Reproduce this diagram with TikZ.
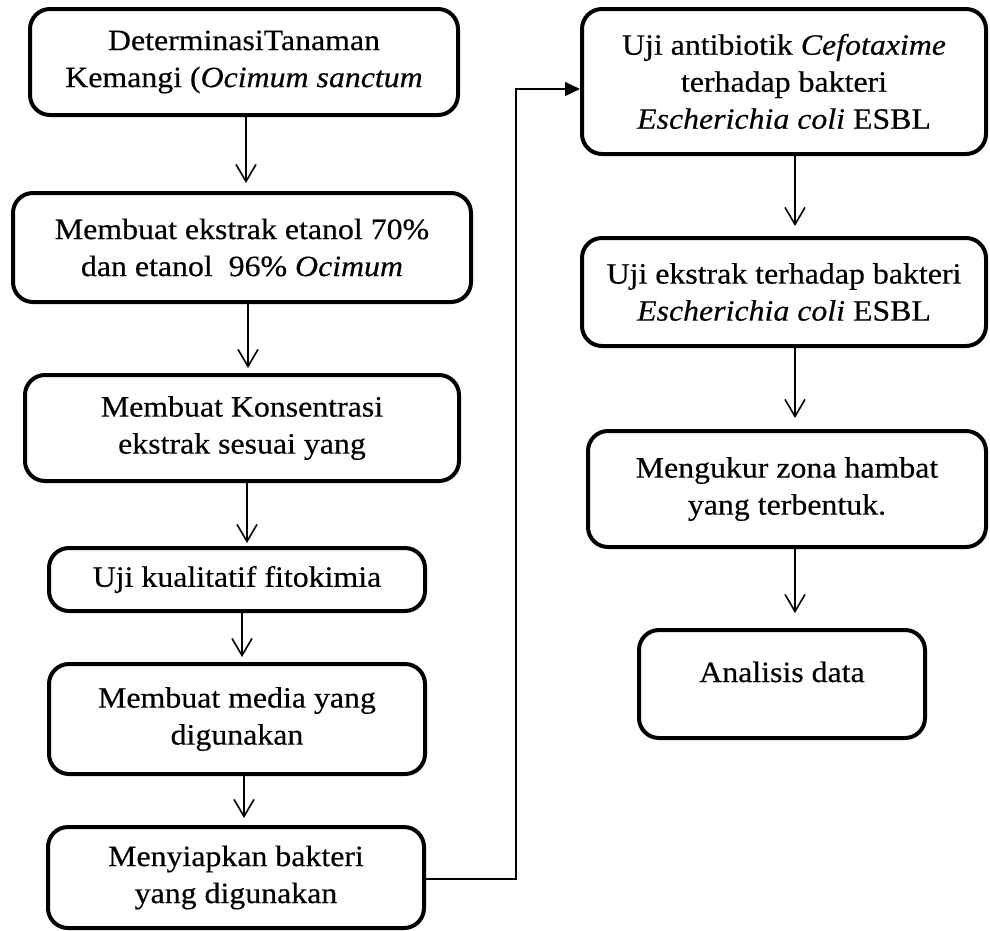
\documentclass[tikz,border=0pt]{standalone}
\usepackage{fontspec}
\setmainfont{Liberation Serif}[FakeStretch=1.08,FakeBold=0.4]
\usetikzlibrary{arrows.meta}
\newcommand{\fsz}{\fontsize{29.5}{37}\selectfont}
\tikzset{
  box/.style={draw, line width=4pt, rounded corners=20pt, align=center, inner sep=0pt, font=\fsz},
  arr/.style={line width=1.6pt, -{Straight Barb[length=17pt,width=20pt]}},
  conn/.style={line width=1.3pt, -{Triangle[length=15pt,width=14pt]}}
}
\begin{document}
\begin{tikzpicture}[x=1pt,y=-1pt]
\useasboundingbox (0,0) rectangle (990,930);
\node[box, minimum width=428pt, minimum height=106pt] (b1) at (244,62) {DeterminasiTanaman\\Kemangi (\textit{Ocimum sanctum}};
\node[box, minimum width=458pt, minimum height=109pt] (b2) at (242,247.5) {Membuat ekstrak etanol 70\%\\dan etanol~~96\% \textit{Ocimum}};
\node[box, minimum width=434pt, minimum height=106pt] (b3) at (242,428) {Membuat Konsentrasi\\ekstrak sesuai yang};
\node[box, minimum width=376pt, minimum height=63pt] (b4) at (237,579.5) {Uji kualitatif fitokimia};
\node[box, minimum width=376pt, minimum height=110pt] (b5) at (237,719) {Membuat media yang\\digunakan};
\node[box, minimum width=376pt, minimum height=101pt] (b6) at (236,877.5) {Menyiapkan bakteri\\yang digunakan};
\node[box, minimum width=404pt, minimum height=145pt] (b7) at (784,81.5) {Uji antibiotik \textit{Cefotaxime}\\terhadap bakteri\\\textit{Escherichia coli} ESBL};
\node[box, minimum width=404pt, minimum height=108pt] (b8) at (784,292) {Uji ekstrak terhadap bakteri\\\textit{Escherichia coli} ESBL};
\node[box, minimum width=398pt, minimum height=116pt] (b9) at (787,489) {Mengukur zona hambat\\yang terbentuk.};
\node[box, minimum width=286pt, minimum height=108pt, text height=20pt, text depth=24pt] (b10) at (782,684) {Analisis data};
\draw[arr, shorten >=8pt] (b1.south -| 246,0) -- (b2.north -| 246,0);
\draw[arr, shorten >=5pt] (b2.south -| 248,0) -- (b3.north -| 248,0);
\draw[arr, shorten >=3pt] (b3.south -| 247,0) -- (b4.north -| 247,0);
\draw[arr, shorten >=5pt] (b4.south -| 242,0) -- (b5.north -| 242,0);
\draw[arr, shorten >=7pt] (b5.south -| 244,0) -- (b6.north -| 244,0);
\draw[arr, shorten >=10pt] (b7.south -| 795,0) -- (b8.north -| 795,0);
\draw[arr, shorten >=11pt] (b8.south -| 795,0) -- (b9.north -| 795,0);
\draw[arr, shorten >=15pt] (b9.south -| 795,0) -- (b10.north -| 795,0);
\coordinate (j) at (516,89);
\draw[conn] (b6.east |- 0,879) -| (j) -- (b7.west |- j);
\end{tikzpicture}
\end{document}
